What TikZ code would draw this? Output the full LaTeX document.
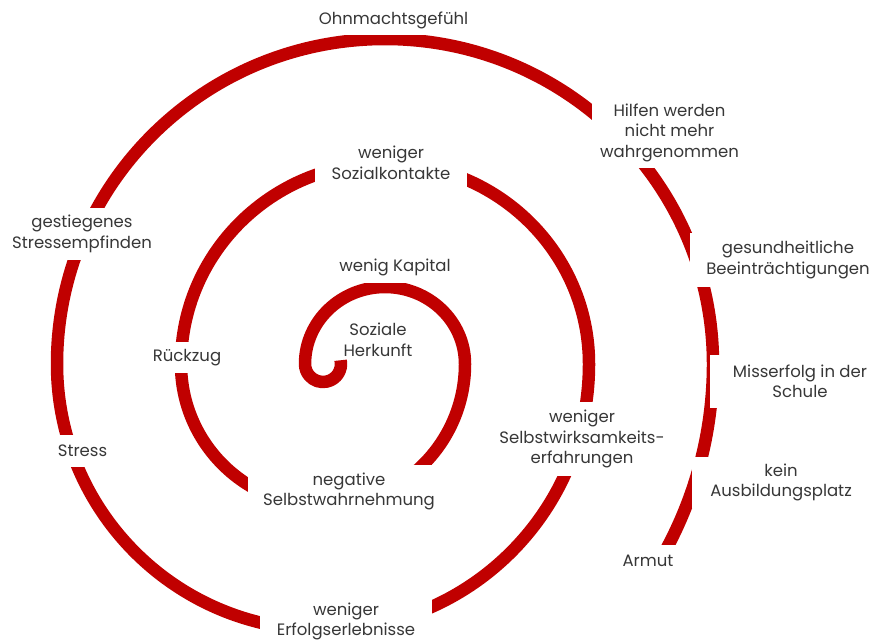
\documentclass[tikz,border=0pt]{standalone}
\usepackage{fontspec}
\setmainfont{Poppins}
\definecolor{spiralred}{RGB}{192,0,0}
\definecolor{txtgrey}{RGB}{55,55,55}
\begin{document}
\begin{tikzpicture}[x=1pt,y=-1pt,
  lbl/.style={fill=white, text=txtgrey, align=center, inner sep=0pt,
              font=\fontsize{16.5}{20.5}\selectfont},
  plainlbl/.style={text=txtgrey, align=center, inner sep=0pt,
              font=\fontsize{16.5}{20.5}\selectfont},
  spiralline/.style={draw=spiralred, line width=12.5pt, line cap=butt, line join=round}]
\useasboundingbox (0,0) rectangle (874,640);
\fill[white] (0,0) rectangle (874,640);
% semicircle spiral: upper halves centred at (385,364), lower halves at (323,364)
\coordinate (cbot) at (323,364);
\draw[spiralline] (cbot) ++(-12:18)
  arc[start angle=-12, end angle=180, radius=18]
  arc[start angle=180, end angle=360, x radius=80, y radius=77]
  arc[start angle=0, end angle=180, radius=142]
  arc[start angle=180, end angle=360, x radius=204, y radius=201]
  arc[start angle=0, end angle=180, radius=266]
  arc[start angle=180, end angle=360, x radius=328, y radius=325]
  arc[start angle=0, end angle=31, radius=390];
\node[lbl, minimum width=173pt, minimum height=30pt] (ohn) at (393.5,20) {Ohnmachtsgefühl};
\node[lbl, minimum width=155pt, minimum height=71pt] (hilf) at (669.5,132.5) {Hilfen werden\\nicht mehr\\wahrgenommen};
\node[lbl, minimum width=196pt, minimum height=54pt] (ges) at (788,260) {gesundheitliche\\Beeinträchtigungen};
\node[lbl, minimum width=180pt, minimum height=53pt] (miss) at (800,381.5) {Misserfolg in der\\Schule};
\node[lbl, minimum width=178pt, minimum height=51pt] (kein) at (781,482.5) {kein\\Ausbildungsplatz};
\node[lbl, minimum width=100pt, minimum height=32pt] (armut) at (648,561) {Armut};
\node[lbl, minimum width=203pt, minimum height=74pt] (selbw) at (582,439) {weniger\\Selbstwirksamkeits-\\erfahrungen};
\node[lbl, minimum width=172pt, minimum height=53pt] (erf) at (346,621.5) {weniger\\Erfolgserlebnisse};
\node[lbl, minimum width=202pt, minimum height=53pt] (neg) at (349,491.5) {negative\\Selbstwahrnehmung};
\node[lbl, minimum width=81pt, minimum height=32pt] (stress) at (82.5,451) {Stress};
\node[lbl, minimum width=165pt, minimum height=52pt] (gest) at (82,234) {gestiegenes\\Stressempfinden};
\node[lbl, minimum width=100pt, minimum height=31pt] (rueck) at (187,357.5) {Rückzug};
\node[lbl, minimum width=152pt, minimum height=50pt] (sozk) at (391,163) {weniger\\Sozialkontakte};
\node[lbl, minimum width=140pt, minimum height=31pt] (kap) at (395,267.5) {wenig Kapital};
\node[plainlbl] (herk) at (378,340) {Soziale\\Herkunft};
\end{tikzpicture}
\end{document}
